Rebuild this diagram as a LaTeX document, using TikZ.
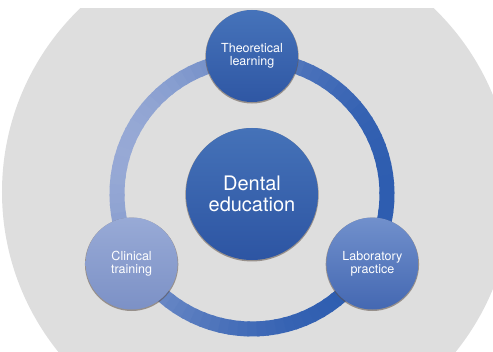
\documentclass[tikz,border=0pt]{standalone}
\usepackage{fontspec}
\setsansfont{TeX Gyre Heros}
\usetikzlibrary{shadows}

\definecolor{backgray}{HTML}{DEDEDE}
\definecolor{ringlight}{HTML}{97A9D5}
\definecolor{ringdark}{HTML}{2E5DB0}
\definecolor{hubtop}{HTML}{4572B8}
\definecolor{hubbot}{HTML}{2D55A3}
\definecolor{theorytop}{HTML}{4673BA}
\definecolor{theorybot}{HTML}{2F57A4}
\definecolor{clintop}{HTML}{98AAD6}
\definecolor{clinbot}{HTML}{7C91C6}
\definecolor{labtop}{HTML}{7190CC}
\definecolor{labbot}{HTML}{4468B2}
\definecolor{rimshadow}{HTML}{5E5048}

\begin{document}
\begin{tikzpicture}[
x=1pt, y=1pt,
hub/.style={
  circle,
  minimum size=132pt,
  inner sep=0pt,
  align=center,
  text=white,
  font=\sffamily\fontsize{20}{21}\selectfont,
  top color=hubtop,
  bottom color=hubbot,
  drop shadow={shadow xshift=0pt, shadow yshift=-0.8pt, shadow scale=1.01, opacity=.55, fill=rimshadow}
  },
spoke/.style={
  circle,
  minimum size=92pt,
  inner sep=0pt,
  align=center,
  text=white,
  font=\sffamily\fontsize{12.5}{13}\selectfont,
  drop shadow={shadow xshift=0pt, shadow yshift=-0.8pt, shadow scale=1.015, opacity=.55, fill=rimshadow}
  },
ring/.style={
  line width=15pt
  }
]
\useasboundingbox (-252,-157) rectangle (241,194);

% grey disc, cut flat at the top
\begin{scope}
\clip (-252,-157) rectangle (241,185);
\fill[backgray] (5,2) circle (255);
\end{scope}

% ring, light at upper left and dark at right
\foreach \a in {0,4,...,356}
{\pgfmathtruncatemacro\mix{100*((1+cos(\a-160))/2)^1.6}
  \draw[ring, ringlight!\mix!ringdark] (\a:135) arc[start angle=\a, end angle=\a+5, radius=135];
}

\node[hub] (edu) at (0,0) {Dental\\education};

\node[spoke, top color=theorytop, bottom color=theorybot] (theory) at (90:138) {Theoretical\\learning};
\node[spoke, top color=clintop, bottom color=clinbot] (clinic) at (210:139) {Clinical\\training};
\node[spoke, top color=labtop, bottom color=labbot] (lab) at (330:139) {Laboratory\\practice};

\end{tikzpicture}
\end{document}
